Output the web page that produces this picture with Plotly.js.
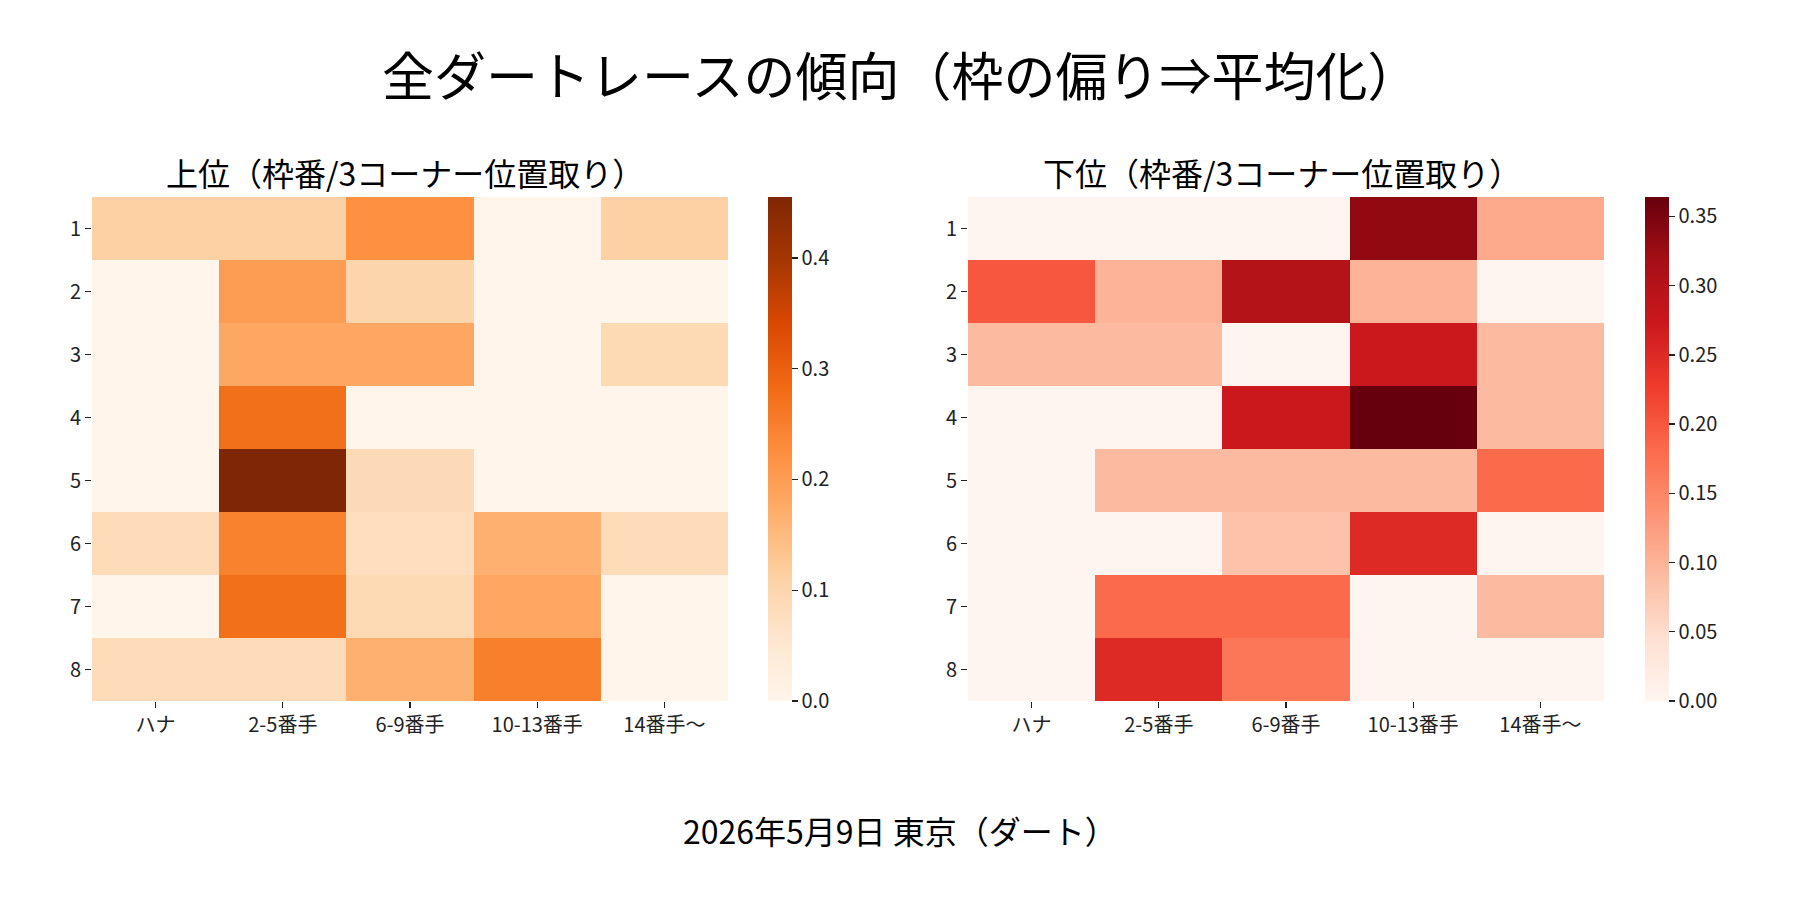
<!DOCTYPE html>
<html>
<head>
<meta charset="utf-8">
<script src="https://cdn.plot.ly/plotly-3.0.1.min.js"></script>
<style>
  body { margin: 0; background: #fff; }
  #chart { width: 1800px; height: 900px; }
</style>
</head>
<body>
<div id="chart"></div>
<script>
// columns: 3コーナー位置取り, rows: 枠番
var positions = ['ハナ', '2-5番手', '6-9番手', '10-13番手', '14番手〜']
var gates = ['1', '2', '3', '4', '5', '6', '7', '8']

// 上位
var topRate = [
  [0.111, 0.111, 0.222, 0, 0.111],
  [0, 0.200, 0.100, 0, 0],
  [0, 0.182, 0.182, 0, 0.091],
  [0, 0.273, 0, 0, 0],
  [0, 0.455, 0.087, 0, 0],
  [0.083, 0.245, 0.077, 0.167, 0.083],
  [0, 0.273, 0.091, 0.182, 0],
  [0.083, 0.083, 0.167, 0.250, 0]
]

// 下位
var bottomRate = [
  [0, 0, 0, 0.333, 0.111],
  [0.200, 0.100, 0.300, 0.100, 0],
  [0.091, 0.091, 0, 0.273, 0.091],
  [0, 0, 0.273, 0.364, 0.091],
  [0, 0.091, 0.091, 0.091, 0.182],
  [0, 0, 0.083, 0.250, 0],
  [0, 0.182, 0.182, 0, 0.091],
  [0, 0.250, 0.167, 0, 0]
]

var mainTitle = '全ダートレースの傾向（枠の偏り⇒平均化）'
var leftTitle = '上位（枠番/3コーナー位置取り）'
var rightTitle = '下位（枠番/3コーナー位置取り）'
var footer = '2026年5月9日 東京（ダート）'

// matplotlib Oranges / Reds
function scale(cols) {
  return cols.map(function (c, i) { return [i / (cols.length - 1), c] })
}
var oranges = scale(['#fff5eb', '#fee6ce', '#fdd0a2', '#fdae6b', '#fd8d3c', '#f16913', '#d94801', '#a63603', '#7f2704'])
var reds = scale(['#fff5f0', '#fee0d2', '#fcbba1', '#fc9272', '#fb6a4a', '#ef3b2c', '#cb181d', '#a50f15', '#67000d'])

function maxOf(m) {
  return Math.max.apply(null, m.map(function (r) { return Math.max.apply(null, r) }))
}

var FONT = '"Noto Sans CJK JP", "Noto Sans", sans-serif'
var tickFont = { family: FONT, size: 20, color: '#222' }

var yBot = 0.2211, yTop = 0.7811

function cbar(x, dtick, fmt) {
  return {
    x: x, xanchor: 'left', xref: 'paper',
    y: yBot, yanchor: 'bottom', yref: 'paper',
    len: yTop - yBot, lenmode: 'fraction',
    thickness: 24, thicknessmode: 'pixels',
    xpad: 0, ypad: 0, outlinewidth: 0,
    ticks: 'outside', ticklen: 6, tickwidth: 1.3, tickcolor: '#222',
    tick0: 0, dtick: dtick, tickformat: fmt,
    tickfont: tickFont
  }
}

var traces = [
  {
    type: 'heatmap', x: positions, y: gates, z: topRate,
    colorscale: oranges, zmin: 0, zmax: maxOf(topRate),
    xaxis: 'x', yaxis: 'y',
    colorbar: cbar(768 / 1800, 0.1, '.1f')
  },
  {
    type: 'heatmap', x: positions, y: gates, z: bottomRate,
    colorscale: reds, zmin: 0, zmax: maxOf(bottomRate),
    xaxis: 'x2', yaxis: 'y2',
    colorbar: cbar(1645 / 1800, 0.05, '.2f')
  }
]

function xax(d0, d1, anchor) {
  return {
    domain: [d0, d1], anchor: anchor, type: 'category',
    showgrid: false, zeroline: false, showline: false,
    ticks: 'outside', ticklen: 6, tickwidth: 1.3, tickcolor: '#222',
    tickfont: tickFont, automargin: false, fixedrange: true
  }
}
function yax(anchor) {
  return {
    domain: [yBot, yTop], anchor: anchor, type: 'category',
    autorange: 'reversed',
    showgrid: false, zeroline: false, showline: false,
    ticks: 'outside', ticklen: 6, tickwidth: 1.3, tickcolor: '#222',
    tickfont: tickFont, automargin: false, fixedrange: true
  }
}

var layout = {
  width: 1800, height: 900,
  margin: { l: 0, r: 0, t: 0, b: 0 },
  paper_bgcolor: '#fff', plot_bgcolor: '#fff',
  font: { family: FONT, color: '#000' },
  xaxis: xax(92 / 1800, 728 / 1800, 'y'),
  yaxis: yax('x'),
  xaxis2: xax(968 / 1800, 1604 / 1800, 'y2'),
  yaxis2: yax('x2'),
  annotations: [
    { text: mainTitle, x: 0.5, y: 1 - 73 / 900, xref: 'paper', yref: 'paper',
      xanchor: 'center', yanchor: 'middle', showarrow: false,
      font: { family: FONT, size: 52, color: '#000' } },
    { text: leftTitle, x: 405 / 1800, y: 1 - 172 / 900, xref: 'paper', yref: 'paper',
      xanchor: 'center', yanchor: 'middle', showarrow: false,
      font: { family: FONT, size: 32, color: '#000' } },
    { text: rightTitle, x: 1282 / 1800, y: 1 - 172 / 900, xref: 'paper', yref: 'paper',
      xanchor: 'center', yanchor: 'middle', showarrow: false,
      font: { family: FONT, size: 32, color: '#000' } },
    { text: footer, x: 0.5, y: 1 - 830 / 900, xref: 'paper', yref: 'paper',
      xanchor: 'center', yanchor: 'middle', showarrow: false,
      font: { family: FONT, size: 32, color: '#000' } }
  ]
}

Plotly.newPlot('chart', traces, layout, { staticPlot: true })
</script>
</body>
</html>
